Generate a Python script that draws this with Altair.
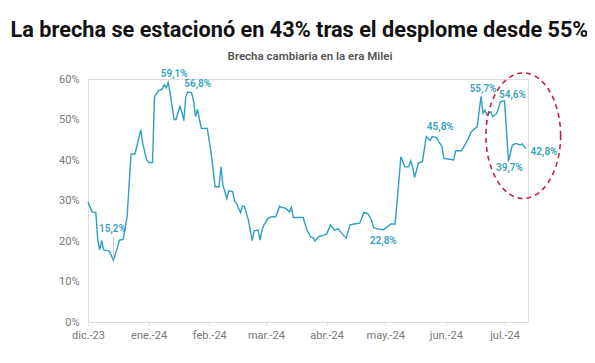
import altair as alt
import pandas as pd
import numpy as np

# ---- data ----
dates = [
    "2023-12-01", "2023-12-03", "2023-12-05", "2023-12-06", "2023-12-07", "2023-12-08", "2023-12-09",
    "2023-12-12", "2023-12-14", "2023-12-16", "2023-12-17", "2023-12-19", "2023-12-21", "2023-12-23",
    "2023-12-25", "2023-12-28", "2023-12-29", "2023-12-31",
    "2024-01-01", "2024-01-03", "2024-01-04", "2024-01-06", "2024-01-08", "2024-01-09", "2024-01-10",
    "2024-01-11", "2024-01-12", "2024-01-14", "2024-01-15", "2024-01-17", "2024-01-18", "2024-01-19",
    "2024-01-20", "2024-01-21", "2024-01-23", "2024-01-24", "2024-01-25", "2024-01-26", "2024-01-27",
    "2024-01-28", "2024-01-31",
    "2024-02-02", "2024-02-03", "2024-02-04", "2024-02-06", "2024-02-07", "2024-02-08", "2024-02-10",
    "2024-02-11", "2024-02-13", "2024-02-14", "2024-02-15", "2024-02-17", "2024-02-18", "2024-02-19",
    "2024-02-21", "2024-02-23", "2024-02-24", "2024-02-26", "2024-02-27", "2024-02-28", "2024-02-29",
    "2024-03-02", "2024-03-04", "2024-03-06", "2024-03-08", "2024-03-09", "2024-03-11", "2024-03-13",
    "2024-03-14", "2024-03-15", "2024-03-20", "2024-03-22", "2024-03-24", "2024-03-25", "2024-03-26",
    "2024-03-28", "2024-03-31",
    "2024-04-01", "2024-04-03", "2024-04-05", "2024-04-07", "2024-04-08", "2024-04-11", "2024-04-13",
    "2024-04-15", "2024-04-18", "2024-04-20", "2024-04-22", "2024-04-24", "2024-04-25", "2024-04-27",
    "2024-04-30",
    "2024-05-02", "2024-05-04", "2024-05-06", "2024-05-07", "2024-05-09", "2024-05-11", "2024-05-13",
    "2024-05-14", "2024-05-15", "2024-05-16", "2024-05-18", "2024-05-20", "2024-05-22", "2024-05-24",
    "2024-05-25", "2024-05-27", "2024-05-30", "2024-05-31",
    "2024-06-03", "2024-06-05", "2024-06-06", "2024-06-09", "2024-06-12", "2024-06-14", "2024-06-16",
    "2024-06-17", "2024-06-19", "2024-06-20", "2024-06-21", "2024-06-22", "2024-06-24", "2024-06-25",
    "2024-06-27", "2024-06-29",
    "2024-07-01", "2024-07-02", "2024-07-03", "2024-07-05", "2024-07-07", "2024-07-09", "2024-07-10",
    "2024-07-12",
]
brecha = [
    29.7, 27.2, 27.0, 20.2, 17.8, 20.1, 17.8,
    17.5, 15.2, 18.3, 20.2, 20.4, 26.0, 41.5,
    41.5, 47.4, 44.1, 40.0,
    39.4, 39.4, 55.6, 57.1, 57.5, 58.6, 57.8,
    59.1, 56.5, 50.0, 50.0, 53.2, 51.9, 49.7,
    55.6, 56.8, 56.6, 54.5, 50.7, 52.5, 50.0,
    47.8, 47.8,
    41.6, 37.5, 33.4, 33.4, 38.3, 33.8, 30.5,
    32.4, 32.2, 29.7, 29.3, 27.0, 28.6, 28.5,
    25.2, 20.1, 22.5, 22.7, 20.2, 22.7, 24.0,
    25.6, 26.0, 26.0, 28.6, 28.3, 28.1, 27.2,
    28.3, 25.8, 25.8, 22.7, 20.9, 20.9, 20.0,
    21.1, 21.5,
    21.7, 24.0, 22.7, 23.0, 22.3, 20.7, 24.0,
    24.2, 24.4, 27.0, 26.8, 25.2, 23.3, 23.0,
    22.8,
    23.5, 24.2, 24.2, 29.3, 40.8, 38.3, 38.3,
    39.8, 38.2, 35.7, 39.3, 39.6, 45.8, 44.8,
    45.8, 45.6, 43.3, 40.4,
    40.2, 40.0, 42.3, 42.3, 44.8, 47.0, 47.8,
    48.2, 55.7, 51.5, 52.3, 51.1, 51.9, 50.7,
    51.5, 54.4,
    54.6, 47.4, 39.7, 43.7, 44.1, 43.7, 44.0,
    42.8,
]

label_dates = ["2023-12-14", "2024-01-11", "2024-01-21", "2024-04-30", "2024-05-22",
               "2024-06-19", "2024-07-01", "2024-07-03", "2024-07-12"]
label_values = [15.2, 59.1, 56.8, 22.8, 45.8, 55.7, 54.6, 39.7, 42.8]
label_texts = ["15,2%", "59,1%", "56,8%", "22,8%", "45,8%", "55,7%", "54,6%", "39,7%", "42,8%"]
label_dx = [-1, 6, 10, 0, 14, 2, 8, 1, 18]
label_dy = [-31, -9, -8, 11, -10, -7, -6, 7, 3]

month_ticks = ["2023-12-01", "2024-01-01", "2024-02-01", "2024-03-01",
               "2024-04-01", "2024-05-01", "2024-06-01", "2024-07-01"]
y_ticks = [0, 10, 20, 30, 40, 50, 60]

title_text = "La brecha se estacionó en 43% tras el desplome desde 55%"
subtitle_text = "Brecha cambiaria en la era Milei"

# ---- tables ----
df = pd.DataFrame({"fecha": pd.to_datetime(dates), "brecha": brecha})
lab = pd.DataFrame({"fecha": pd.to_datetime(label_dates), "brecha": label_values,
                    "texto": label_texts})

# ellipse annotation around the last weeks (centre/radii in data units)
ell_center = pd.Timestamp("2024-07-10 14:00")
ell_rx_days, ell_cy, ell_ry = 19.1, 46.0, 15.5
t = np.linspace(0, 2 * np.pi, 121)
ell = pd.DataFrame({
    "fecha": ell_center + pd.to_timedelta(ell_rx_days * np.cos(t), unit="D"),
    "brecha": ell_cy + ell_ry * np.sin(t),
    "orden": np.arange(len(t)),
})

def utc(s):
    ts = pd.Timestamp(s)
    return alt.DateTime(year=ts.year, month=ts.month, date=ts.day, utc=True)

FONT = "Roboto"
TEAL = "#35a4bb"

xscale = alt.Scale(type="utc", domain=[utc("2023-12-01"), utc("2024-07-13")])
yscale = alt.Scale(domain=[0, 60])

month_expr = ("['ene.','feb.','mar.','abr.','may.','jun.','jul.','ago.','sep.','oct.','nov.','dic.']"
              "[utcmonth(datum.value)] + '-' + utcFormat(datum.value, '%y')")

x_enc = alt.X("fecha:T", scale=xscale, title=None,
              axis=alt.Axis(values=[utc(m) for m in month_ticks], labelExpr=month_expr,
                            grid=False, domainColor="#dddddd", tickColor="#e6e6e6",
                            tickSize=4, labelPadding=3, labelColor="#777777",
                            labelFontSize=11, labelFont=FONT, labelFlush=False))
y_enc = alt.Y("brecha:Q", scale=yscale, title=None,
              axis=alt.Axis(values=y_ticks, labelExpr="datum.value + '%'", grid=False,
                            domain=False, ticks=False, labelPadding=9,
                            labelColor="#777777", labelFontSize=11, labelFont=FONT))

line = alt.Chart(df).mark_line(color="#2ba0c4", strokeWidth=1.4).encode(x=x_enc, y=y_enc)

leader = alt.Chart(lab.iloc[[0]]).mark_rule(color="#bbbbbb", strokeWidth=0.8).encode(
    x="fecha:T", y="brecha:Q", y2=alt.datum(21.0))

label_layers = []
for i in range(len(label_texts)):
    label_layers.append(
        alt.Chart(lab.iloc[[i]]).mark_text(font=FONT, fontSize=10, fontWeight=600, color=TEAL,
                                           dx=label_dx[i], dy=label_dy[i]).encode(
            x="fecha:T", y="brecha:Q", text="texto:N"))

ellipse = alt.Chart(ell).mark_line(color="#c8223a", strokeWidth=1.6, strokeDash=[5, 4],
                                   clip=False).encode(
    x="fecha:T", y="brecha:Q", order="orden:Q")

subtitle = alt.Chart(pd.DataFrame({"s": [subtitle_text]})).mark_text(
    font=FONT, fontSize=11.5, fontWeight=600, color="#555555").encode(
    x=alt.value(222), y=alt.value(-22), text="s:N")

chart = alt.layer(line, leader, *label_layers, ellipse, subtitle).properties(
    width=440, height=243,
    title=alt.TitleParams(text=title_text, font=FONT, fontSize=21.7, fontWeight="bold",
                          color="#111111", anchor="middle", dx=-8.5, offset=9),
    autosize=alt.AutoSizeParams(type="none"),
    padding={"left": 80, "top": 71, "right": 59, "bottom": 33},
).configure_view(stroke=None).configure(background="white")

chart.save("out.html", embed_options={"renderer": "svg", "actions": False})
